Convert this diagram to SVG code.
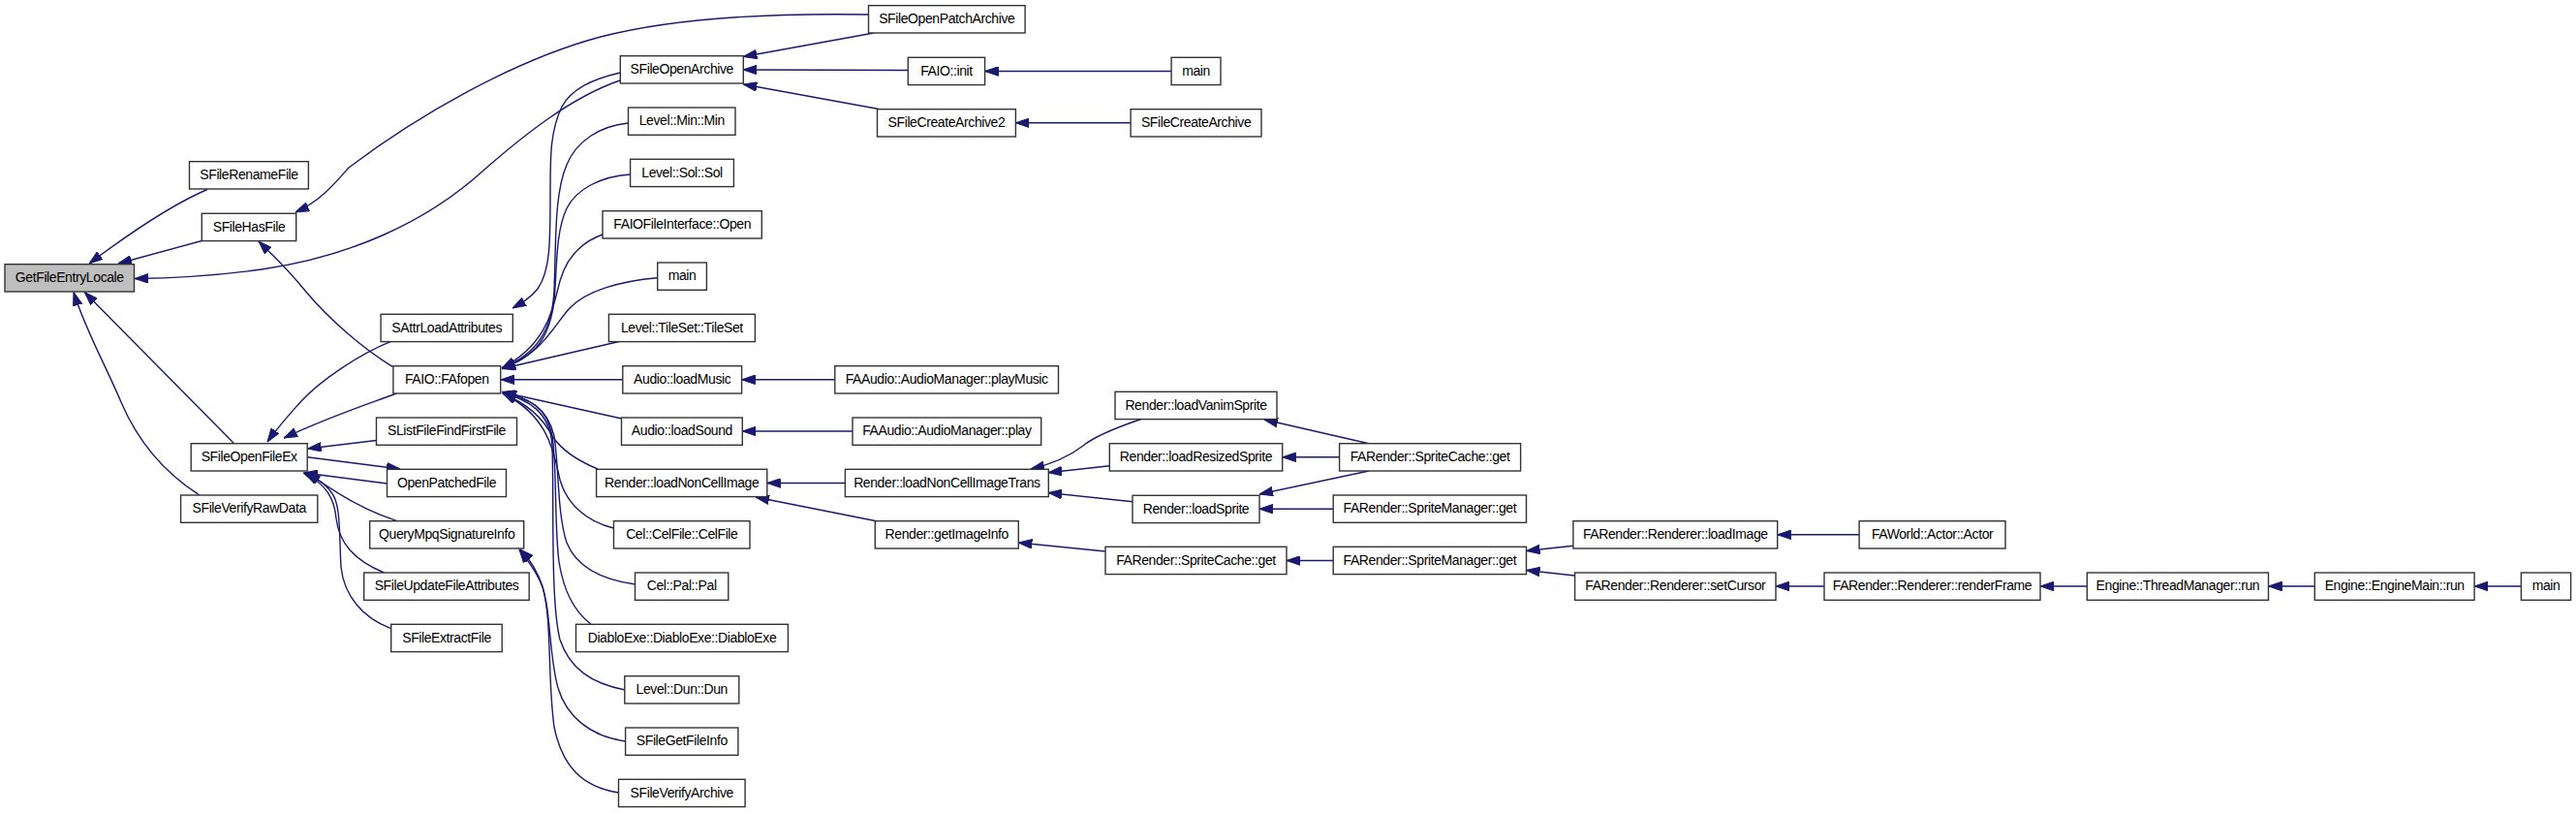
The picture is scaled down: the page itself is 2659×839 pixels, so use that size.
<svg xmlns="http://www.w3.org/2000/svg" width="2659" height="839" viewBox="0 0 2659 839">
<style>
.n rect{fill:#fff;stroke:#333;stroke-width:1.4}
.n.root rect{fill:#bfbfbf}
.n text{font-family:"Liberation Sans",Arial,sans-serif;font-size:14px;letter-spacing:-0.4px;text-anchor:middle;fill:#000}
.e path{fill:none;stroke:#191970;stroke-width:1.4;marker-end:url(#arr)}
</style>
<defs>
<marker id="arr" viewBox="-14 -5 14 10" refX="0" refY="0" markerWidth="14" markerHeight="10" markerUnits="userSpaceOnUse" orient="auto">
<path d="M0,0 L-14,-4.8 L-14,4.8 Z" fill="#191970" stroke="#191970" stroke-width="1"/>
</marker>
</defs>
<rect x="0" y="0" width="2659" height="839" fill="#fff"/>
<g id="edges" class="e">
<path d="M214,195.5 C185,208 140,236 92,272"/>
<path d="M208.3,248.5 L122,272"/>
<path d="M640,83 C590,100 540,140 500,175 C440,230 360,265 270,278 C220,285 180,287 139,287.5"/>
<path d="M241.7,457.7 L87.3,301.5"/>
<path d="M206,511 C165,485 140,450 125,415 C108,375 88,340 76,301.5"/>
<path d="M896.5,15 C780,13 690,20 620,38 C530,62 430,120 360,173 C345,190 330,208 305,219"/>
<path d="M405,378.3 C375,360 340,330 315,300 C295,275 280,262 267,249"/>
<path d="M409.2,406 C380,417 340,430 293,452"/>
<path d="M403,352.7 C370,366 330,393 310,415 C295,432 285,443 276,456"/>
<path d="M388.5,454.5 L317.5,463"/>
<path d="M317.2,471.7 L413,484"/>
<path d="M399.5,499 L314,488"/>
<path d="M409.2,537.3 C380,528 350,512 317,487"/>
<path d="M396.5,591 C365,578 350,560 347,535 C345,512 335,500 315,488"/>
<path d="M403,648.3 C375,638 355,615 352,585 C350,550 352,520 342,508 C335,498 325,493 313,488"/>
<path d="M640.3,75 C610,82 590,92 580,110 C568,135 568,160 568,200 C568,250 568,280 555,298 C547,308 538,313 529,318"/>
<path d="M648.3,127 C620,130 595,145 585,170 C572,200 574,250 572,300 C570,340 555,365 518,380"/>
<path d="M650.7,180 C620,182 595,195 585,215 C573,240 575,280 572,310 C568,345 555,368 518,380"/>
<path d="M622,242 C600,250 585,265 578,290 C570,320 565,355 518,380"/>
<path d="M678.7,286.7 C640,290 605,300 588,318 C570,338 560,365 518,380"/>
<path d="M640,352.3 L518,380.5"/>
<path d="M642.8,391.8 L517,391.8"/>
<path d="M641.7,432 L518,404.5"/>
<path d="M617,484 C595,475 580,465 570,450 C560,430 540,415 519,406"/>
<path d="M633.3,545 C605,538 585,520 578,495 C572,470 568,430 519,406"/>
<path d="M655.6,603 C620,598 595,585 585,560 C575,530 577,480 572,450 C565,420 545,410 519,406"/>
<path d="M610,644.3 C592,630 582,610 577,580 C572,540 575,480 570,450 C565,420 545,410 519,406"/>
<path d="M645,712 C610,705 588,690 578,660 C568,620 572,520 570,460 C568,425 545,412 519,406"/>
<path d="M645.5,765 C610,760 585,740 576,710 C565,670 570,620 555,595 C548,582 542,575 536,567"/>
<path d="M638.7,818 C600,812 580,790 572,750 C565,700 570,640 560,605 C553,585 545,575 537,567"/>
<path d="M902,34 L767.3,58.5"/>
<path d="M937.3,72.5 L767.3,72"/>
<path d="M907,112.5 L767.3,87"/>
<path d="M1209,73.5 L1016.6,73.5"/>
<path d="M1167,126.8 L1048.4,126.8"/>
<path d="M861.8,391.8 L765.6,391.8"/>
<path d="M880,445 L766.4,445"/>
<path d="M872.4,498.5 L791.8,498.5"/>
<path d="M904.6,537.7 L780,513"/>
<path d="M1178,432.5 C1150,442 1130,450 1118,460 C1105,470 1090,478 1064,484"/>
<path d="M1145.3,480.7 L1082,487.7"/>
<path d="M1169,517.7 L1082,508.5"/>
<path d="M1141,569 L1051.3,560"/>
<path d="M1413,457.7 L1305,433"/>
<path d="M1382.6,471.8 L1323.7,471.8"/>
<path d="M1413,486 L1300,510"/>
<path d="M1376.2,525.2 L1300,525.2"/>
<path d="M1376.2,578.5 L1328,578.5"/>
<path d="M1623.9,563.3 L1575.5,568.5"/>
<path d="M1625.6,594 L1575.5,588.5"/>
<path d="M1919,551.8 L1834.7,551.8"/>
<path d="M1883,605 L1833,605"/>
<path d="M2154.3,605 L2106,605"/>
<path d="M2389.3,605 L2341.5,605"/>
<path d="M2602.4,605 L2554.1,605"/>
</g>
<g id="n1" class="n root"><rect x="5" y="272.7" width="133.5" height="28.3"/><text x="71.8" y="290.9">GetFileEntryLocale</text></g>
<g id="n2" class="n"><rect x="195.5" y="166.7" width="122.9" height="28.3"/><text x="257" y="184.9">SFileRenameFile</text></g>
<g id="n3" class="n"><rect x="208.3" y="220.3" width="97.4" height="28.3"/><text x="257" y="238.5">SFileHasFile</text></g>
<g id="n4" class="n"><rect x="197.2" y="457.7" width="120" height="28.3"/><text x="257.2" y="475.9">SFileOpenFileEx</text></g>
<g id="n5" class="n"><rect x="186.6" y="511" width="141.2" height="28.3"/><text x="257.2" y="529.2">SFileVerifyRawData</text></g>
<g id="n6" class="n"><rect x="393.1" y="324.3" width="136.2" height="28.3"/><text x="461.2" y="342.5">SAttrLoadAttributes</text></g>
<g id="n7" class="n"><rect x="405.9" y="377.7" width="110.8" height="28.3"/><text x="461.3" y="395.9">FAIO::FAfopen</text></g>
<g id="n8" class="n"><rect x="388.5" y="431" width="145" height="28.3"/><text x="461" y="449.2">SListFileFindFirstFile</text></g>
<g id="n9" class="n"><rect x="399.5" y="484.3" width="123" height="28.3"/><text x="461" y="502.5">OpenPatchedFile</text></g>
<g id="n10" class="n"><rect x="381.7" y="537.7" width="159" height="28.3"/><text x="461.2" y="555.9">QueryMpqSignatureInfo</text></g>
<g id="n11" class="n"><rect x="375.7" y="591" width="170.5" height="28.3"/><text x="461" y="609.2">SFileUpdateFileAttributes</text></g>
<g id="n12" class="n"><rect x="403.7" y="644.3" width="114.5" height="28.3"/><text x="461" y="662.5">SFileExtractFile</text></g>
<g id="n13" class="n"><rect x="640.3" y="57.7" width="127" height="28.3"/><text x="703.8" y="75.9">SFileOpenArchive</text></g>
<g id="n14" class="n"><rect x="648.5" y="111" width="110.5" height="28.3"/><text x="703.8" y="129.2">Level::Min::Min</text></g>
<g id="n15" class="n"><rect x="650.6" y="164.3" width="106.8" height="28.3"/><text x="704" y="182.5">Level::Sol::Sol</text></g>
<g id="n16" class="n"><rect x="622" y="217.7" width="164.3" height="28.3"/><text x="704.2" y="235.9">FAIOFileInterface::Open</text></g>
<g id="n17" class="n"><rect x="678.7" y="271" width="50.7" height="28.3"/><text x="704" y="289.2">main</text></g>
<g id="n18" class="n"><rect x="628.4" y="324.3" width="151" height="28.3"/><text x="703.9" y="342.5">Level::TileSet::TileSet</text></g>
<g id="n19" class="n"><rect x="642.8" y="377.7" width="122.8" height="28.3"/><text x="704.2" y="395.9">Audio::loadMusic</text></g>
<g id="n20" class="n"><rect x="641.5" y="431" width="124.8" height="28.3"/><text x="703.9" y="449.2">Audio::loadSound</text></g>
<g id="n21" class="n"><rect x="615.6" y="484.3" width="176.2" height="28.3"/><text x="703.7" y="502.5">Render::loadNonCellImage</text></g>
<g id="n22" class="n"><rect x="633.5" y="537.7" width="140.5" height="28.3"/><text x="703.8" y="555.9">Cel::CelFile::CelFile</text></g>
<g id="n23" class="n"><rect x="655.5" y="591" width="96.3" height="28.3"/><text x="703.7" y="609.2">Cel::Pal::Pal</text></g>
<g id="n24" class="n"><rect x="594.5" y="644.3" width="218.9" height="28.3"/><text x="704" y="662.5">DiabloExe::DiabloExe::DiabloExe</text></g>
<g id="n25" class="n"><rect x="644.8" y="697.7" width="118" height="28.3"/><text x="703.8" y="715.9">Level::Dun::Dun</text></g>
<g id="n26" class="n"><rect x="645.6" y="751" width="116.3" height="28.3"/><text x="703.8" y="769.2">SFileGetFileInfo</text></g>
<g id="n27" class="n"><rect x="638.5" y="804.3" width="130.6" height="28.3"/><text x="703.8" y="822.5">SFileVerifyArchive</text></g>
<g id="n28" class="n"><rect x="896.5" y="5.7" width="161.6" height="28.3"/><text x="977.3" y="23.9">SFileOpenPatchArchive</text></g>
<g id="n29" class="n"><rect x="937.3" y="59.3" width="79.3" height="28.3"/><text x="977" y="77.5">FAIO::init</text></g>
<g id="n30" class="n"><rect x="905.5" y="112.7" width="142.9" height="28.3"/><text x="977" y="130.9">SFileCreateArchive2</text></g>
<g id="n31" class="n"><rect x="861.8" y="377.7" width="230.7" height="28.3"/><text x="977.2" y="395.9">FAAudio::AudioManager::playMusic</text></g>
<g id="n32" class="n"><rect x="880" y="431" width="194.7" height="28.3"/><text x="977.4" y="449.2">FAAudio::AudioManager::play</text></g>
<g id="n33" class="n"><rect x="872.4" y="484.3" width="209.9" height="28.3"/><text x="977.4" y="502.5">Render::loadNonCellImageTrans</text></g>
<g id="n34" class="n"><rect x="903.3" y="537.7" width="148" height="28.3"/><text x="977.3" y="555.9">Render::getImageInfo</text></g>
<g id="n35" class="n"><rect x="1209.1" y="59.3" width="50.9" height="28.3"/><text x="1234.6" y="77.5">main</text></g>
<g id="n36" class="n"><rect x="1167.1" y="112.7" width="134.9" height="28.3"/><text x="1234.6" y="130.9">SFileCreateArchive</text></g>
<g id="n37" class="n"><rect x="1151" y="404.3" width="167" height="28.3"/><text x="1234.5" y="422.5">Render::loadVanimSprite</text></g>
<g id="n38" class="n"><rect x="1145.3" y="457.7" width="178.4" height="28.3"/><text x="1234.5" y="475.9">Render::loadResizedSprite</text></g>
<g id="n39" class="n"><rect x="1169" y="511.3" width="131" height="28.3"/><text x="1234.5" y="529.5">Render::loadSprite</text></g>
<g id="n40" class="n"><rect x="1141" y="564.3" width="187" height="28.3"/><text x="1234.5" y="582.5">FARender::SpriteCache::get</text></g>
<g id="n41" class="n"><rect x="1382.6" y="457.7" width="187" height="28.3"/><text x="1476.1" y="475.9">FARender::SpriteCache::get</text></g>
<g id="n42" class="n"><rect x="1376.2" y="511" width="199.3" height="28.3"/><text x="1475.9" y="529.2">FARender::SpriteManager::get</text></g>
<g id="n43" class="n"><rect x="1376.2" y="564.3" width="199.3" height="28.3"/><text x="1475.9" y="582.5">FARender::SpriteManager::get</text></g>
<g id="n44" class="n"><rect x="1623.9" y="537.7" width="210.8" height="28.3"/><text x="1729.3" y="555.9">FARender::Renderer::loadImage</text></g>
<g id="n45" class="n"><rect x="1625.6" y="591" width="207.4" height="28.3"/><text x="1729.3" y="609.2">FARender::Renderer::setCursor</text></g>
<g id="n46" class="n"><rect x="1919.1" y="537.7" width="150.9" height="28.3"/><text x="1994.6" y="555.9">FAWorld::Actor::Actor</text></g>
<g id="n47" class="n"><rect x="1883" y="591" width="223" height="28.3"/><text x="1994.5" y="609.2">FARender::Renderer::renderFrame</text></g>
<g id="n48" class="n"><rect x="2154.3" y="591" width="187.2" height="28.3"/><text x="2247.9" y="609.2">Engine::ThreadManager::run</text></g>
<g id="n49" class="n"><rect x="2389.3" y="591" width="164.8" height="28.3"/><text x="2471.7" y="609.2">Engine::EngineMain::run</text></g>
<g id="n50" class="n"><rect x="2602.4" y="591" width="51.2" height="28.3"/><text x="2628" y="609.2">main</text></g>
</svg>
